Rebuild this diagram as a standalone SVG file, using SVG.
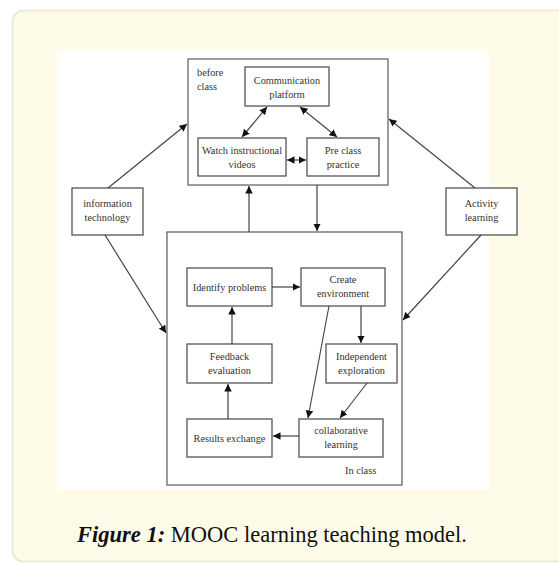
<svg xmlns="http://www.w3.org/2000/svg" width="559" height="563" viewBox="0 0 559 563">
  <style>
    .box { fill: #ffffff; stroke: #555555; stroke-width: 1.3; }
    .frame { fill: #ffffff; stroke: #666666; stroke-width: 1.3; }
    .lbl { font-family: "Liberation Serif", "Times New Roman", serif; font-size: 10.3px; fill: #333333; text-anchor: middle; }
    .tag { font-family: "Liberation Serif", "Times New Roman", serif; font-size: 10.3px; fill: #333333; }
    .cap { font-family: "Liberation Serif", "DejaVu Serif", serif; font-size: 22.5px; fill: #111111; text-anchor: middle; }
    .conn line { stroke: #444444; stroke-width: 1.2; }
  </style>
  <defs>
    <marker id="ah" viewBox="0 0 10 10" refX="10" refY="5" markerWidth="7.5" markerHeight="7.5" markerUnits="userSpaceOnUse" orient="auto-start-reverse">
      <path d="M0,0 L10,5 L0,10 Z" fill="#111111"/>
    </marker>
  </defs>

  <!-- page panel -->
  <rect x="0" y="0" width="559" height="563" fill="#ffffff"/>
  <rect x="12.5" y="10.5" width="570" height="551" rx="11" fill="#fffbe9" stroke="#ede9dc" stroke-width="2"/>
  <rect x="57" y="51" width="432" height="439" fill="#ffffff"/>

  <!-- before class frame -->
  <g id="before-class">
    <rect class="frame" x="188" y="59" width="200" height="126"/>
    <text class="tag" x="197" y="76">before</text>
    <text class="tag" x="197" y="90">class</text>
  </g>

  <!-- in class frame -->
  <g id="in-class">
    <rect class="frame" x="167" y="232" width="235" height="253"/>
    <text class="tag" x="345" y="474">In class</text>
  </g>

  <g id="communication-platform">
    <rect class="box" x="245" y="67" width="84" height="39"/>
    <text class="lbl" x="287" y="84">Communication</text>
    <text class="lbl" x="287" y="98">platform</text>
  </g>
  <g id="watch-videos">
    <rect class="box" x="198" y="138" width="88" height="38"/>
    <text class="lbl" x="242" y="154">Watch instructional</text>
    <text class="lbl" x="242" y="168">videos</text>
  </g>
  <g id="pre-class-practice">
    <rect class="box" x="307" y="138" width="72" height="38"/>
    <text class="lbl" x="343" y="154">Pre class</text>
    <text class="lbl" x="343" y="168">practice</text>
  </g>

  <g id="information-technology">
    <rect class="box" x="72" y="188" width="71" height="47"/>
    <text class="lbl" x="107.5" y="207">information</text>
    <text class="lbl" x="107.5" y="221">technology</text>
  </g>
  <g id="activity-learning">
    <rect class="box" x="446" y="188" width="71" height="47"/>
    <text class="lbl" x="481.5" y="207">Activity</text>
    <text class="lbl" x="481.5" y="221">learning</text>
  </g>

  <g id="identify-problems">
    <rect class="box" x="187" y="268" width="85" height="38"/>
    <text class="lbl" x="229.5" y="291">Identify problems</text>
  </g>
  <g id="create-environment">
    <rect class="box" x="301" y="268" width="84" height="38"/>
    <text class="lbl" x="343" y="283">Create</text>
    <text class="lbl" x="343" y="297">environment</text>
  </g>
  <g id="feedback-evaluation">
    <rect class="box" x="187" y="344" width="85" height="39"/>
    <text class="lbl" x="229.5" y="360">Feedback</text>
    <text class="lbl" x="229.5" y="374">evaluation</text>
  </g>
  <g id="independent-exploration">
    <rect class="box" x="326" y="344" width="71" height="39"/>
    <text class="lbl" x="361.5" y="360">Independent</text>
    <text class="lbl" x="361.5" y="374">exploration</text>
  </g>
  <g id="results-exchange">
    <rect class="box" x="187" y="419" width="85" height="38"/>
    <text class="lbl" x="229.5" y="442">Results exchange</text>
  </g>
  <g id="collaborative-learning">
    <rect class="box" x="299" y="419" width="84" height="38"/>
    <text class="lbl" x="341" y="434">collaborative</text>
    <text class="lbl" x="341" y="448">learning</text>
  </g>

  <!-- connectors -->
  <g class="conn" id="connectors">
    <line x1="267" y1="107" x2="242" y2="137" marker-start="url(#ah)" marker-end="url(#ah)"/>
    <line x1="300" y1="107" x2="337" y2="137" marker-start="url(#ah)" marker-end="url(#ah)"/>
    <line x1="287" y1="160" x2="306" y2="160" marker-start="url(#ah)" marker-end="url(#ah)"/>
    <line x1="249" y1="232" x2="249" y2="186" marker-end="url(#ah)"/>
    <line x1="317" y1="185" x2="317" y2="231" marker-end="url(#ah)"/>
    <line x1="108" y1="188" x2="187" y2="124" marker-end="url(#ah)"/>
    <line x1="105" y1="235" x2="166" y2="333" marker-end="url(#ah)"/>
    <line x1="475" y1="188" x2="389" y2="119" marker-end="url(#ah)"/>
    <line x1="481" y1="235" x2="403" y2="320" marker-end="url(#ah)"/>
    <line x1="272" y1="287" x2="300" y2="287" marker-end="url(#ah)"/>
    <line x1="361" y1="306" x2="361" y2="343" marker-end="url(#ah)"/>
    <line x1="232" y1="344" x2="232" y2="307" marker-end="url(#ah)"/>
    <line x1="329" y1="306" x2="308" y2="418" marker-end="url(#ah)"/>
    <line x1="367" y1="383" x2="340" y2="418" marker-end="url(#ah)"/>
    <line x1="299" y1="436" x2="273" y2="436" marker-end="url(#ah)"/>
    <line x1="228" y1="419" x2="228" y2="384" marker-end="url(#ah)"/>
  </g>

  <!-- caption -->
  <text class="cap" x="272" y="542"><tspan font-weight="bold" font-style="italic">Figure 1:</tspan> MOOC learning teaching model.</text>
</svg>
